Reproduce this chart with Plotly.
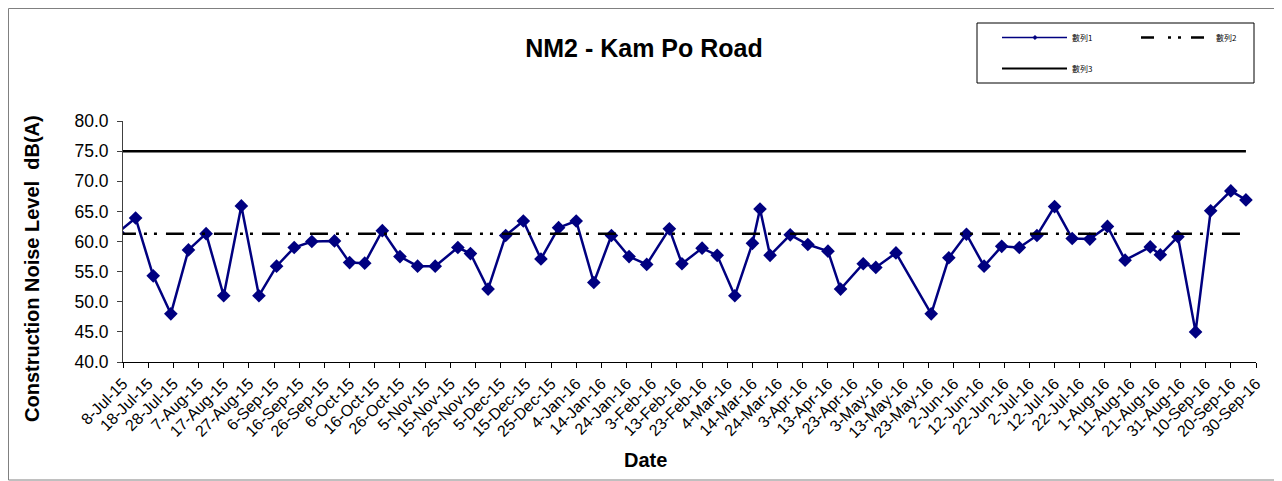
import plotly.graph_objects as go
import pandas as pd

# ---------------- data ----------------
dates = ["2015-07-06", "2015-07-13", "2015-07-20", "2015-07-27", "2015-08-03", "2015-08-10",
         "2015-08-17", "2015-08-24", "2015-08-31", "2015-09-07", "2015-09-14", "2015-09-21",
         "2015-09-30", "2015-10-06", "2015-10-12", "2015-10-19", "2015-10-26", "2015-11-02",
         "2015-11-09", "2015-11-18", "2015-11-23", "2015-11-30", "2015-12-07", "2015-12-14",
         "2015-12-21", "2015-12-28", "2016-01-04", "2016-01-11", "2016-01-18", "2016-01-25",
         "2016-02-01", "2016-02-10", "2016-02-15", "2016-02-23", "2016-02-29", "2016-03-07",
         "2016-03-14", "2016-03-17", "2016-03-21", "2016-03-29", "2016-04-05", "2016-04-13",
         "2016-04-18", "2016-04-27", "2016-05-02", "2016-05-10", "2016-05-24", "2016-05-31",
         "2016-06-07", "2016-06-14", "2016-06-21", "2016-06-28", "2016-07-05", "2016-07-12",
         "2016-07-19", "2016-07-26", "2016-08-02", "2016-08-09", "2016-08-19", "2016-08-23",
         "2016-08-30", "2016-09-06", "2016-09-12", "2016-09-20", "2016-09-26"]

noise_levels = [61.5, 63.9, 54.3, 48.0, 58.6, 61.3, 51.0, 65.9, 51.0, 55.9, 59.0, 60.0,
                60.1, 56.5, 56.4, 61.8, 57.5, 55.9, 55.9, 59.0, 58.0, 52.1, 61.0, 63.4,
                57.1, 62.3, 63.4, 53.2, 61.0, 57.5, 56.2, 62.1, 56.3, 58.9, 57.7, 51.0,
                59.7, 65.4, 57.7, 61.1, 59.5, 58.4, 52.1, 56.3, 55.7, 58.1, 48.0, 57.3,
                61.2, 55.9, 59.2, 59.0, 61.0, 65.8, 60.5, 60.4, 62.5, 56.9, 59.1, 57.8,
                60.8, 45.0, 65.1, 68.4, 66.9]

series_names = ["數列1", "數列2", "數列3"]

ref_line_dates = ["2015-07-06", "2016-09-26"]
baseline_values = [61.3, 61.3]
limit_values = [75.0, 75.0]

tick_labels = ["8-Jul-15", "18-Jul-15", "28-Jul-15", "7-Aug-15", "17-Aug-15", "27-Aug-15",
               "6-Sep-15", "16-Sep-15", "26-Sep-15", "6-Oct-15", "16-Oct-15", "26-Oct-15",
               "5-Nov-15", "15-Nov-15", "25-Nov-15", "5-Dec-15", "15-Dec-15", "25-Dec-15",
               "4-Jan-16", "14-Jan-16", "24-Jan-16", "3-Feb-16", "13-Feb-16", "23-Feb-16",
               "4-Mar-16", "14-Mar-16", "24-Mar-16", "3-Apr-16", "13-Apr-16", "23-Apr-16",
               "3-May-16", "13-May-16", "23-May-16", "2-Jun-16", "12-Jun-16", "22-Jun-16",
               "2-Jul-16", "12-Jul-16", "22-Jul-16", "1-Aug-16", "11-Aug-16", "21-Aug-16",
               "31-Aug-16", "10-Sep-16", "20-Sep-16", "30-Sep-16"]
y_ticks = [40, 45, 50, 55, 60, 65, 70, 75, 80]

tick_dates = pd.to_datetime(tick_labels, format="%d-%b-%y")

# ---------------- geometry helpers (page pixel coordinates) ----------------
PAGE_W, PAGE_H = 1282, 481
OFF = 8  # default body margin of the page
W, H = PAGE_W - OFF, PAGE_H - OFF
L, R, T, B = 123, 1256, 121, 362


def xp(px):
    return (px - L) / (R - L)


def yp(py):
    return (B - py) / (B - T)


FONT = "Arial, 'Liberation Sans', sans-serif"
CJK = "'Noto Sans CJK TC', 'Noto Sans CJK SC', sans-serif"
NAVY = "#000080"

fig = go.Figure()
fig.add_trace(go.Scatter(
    x=dates, y=noise_levels, mode="lines+markers", name=series_names[0],
    line=dict(color=NAVY, width=2.5),
    marker=dict(symbol="diamond", size=10.5, color=NAVY),
    showlegend=False,
))
fig.add_trace(go.Scatter(
    x=ref_line_dates, y=baseline_values, mode="lines", name=series_names[1],
    line=dict(color="black", width=2.5, dash="18px,8px,3px,7px,3px,9px"),
    showlegend=False,
))
fig.add_trace(go.Scatter(
    x=ref_line_dates, y=limit_values, mode="lines", name=series_names[2],
    line=dict(color="black", width=2.5),
    showlegend=False,
))

shapes = []
# outer chart border
shapes.append(dict(type="rect", xref="paper", yref="paper",
                   x0=xp(8.5), x1=xp(1279), y0=yp(8.5), y1=yp(480),
                   line=dict(color="#808080", width=1), fillcolor="rgba(0,0,0,0)", layer="below"))
# legend box
shapes.append(dict(type="rect", xref="paper", yref="paper",
                   x0=xp(977), x1=xp(1254), y0=yp(23), y1=yp(83),
                   line=dict(color="black", width=1), fillcolor="white"))
# legend samples
shapes.append(dict(type="line", xref="paper", yref="paper",
                   x0=xp(1002), x1=xp(1067), y0=yp(37.5), y1=yp(37.5),
                   line=dict(color=NAVY, width=1.5)))
cx, cy, r = 1035, 37.5, 2.2
shapes.append(dict(type="path", xref="paper", yref="paper",
                   path=f"M {xp(cx - r)},{yp(cy)} L {xp(cx)},{yp(cy - r)} L {xp(cx + r)},{yp(cy)} L {xp(cx)},{yp(cy + r)} Z",
                   fillcolor=NAVY, line=dict(color=NAVY, width=0.5)))
shapes.append(dict(type="line", xref="paper", yref="paper",
                   x0=xp(1141), x1=xp(1207), y0=yp(37.5), y1=yp(37.5),
                   line=dict(color="black", width=2.5, dash="13px,14px,3px,7px,3px,10px")))
shapes.append(dict(type="line", xref="paper", yref="paper",
                   x0=xp(1002), x1=xp(1067), y0=yp(68.5), y1=yp(68.5),
                   line=dict(color="black", width=2)))

annotations = []
for name, (px, py) in zip(series_names, [(1070, 37.5), (1214, 37.5), (1070, 68.5)]):
    annotations.append(dict(text=name, xref="paper", yref="paper", x=xp(px), y=yp(py),
                            xanchor="left", yanchor="middle", showarrow=False,
                            font=dict(family=CJK, size=8, color="black")))
annotations.append(dict(text="Date", xref="paper", yref="paper", x=xp(645), y=yp(460),
                        xanchor="center", yanchor="middle", showarrow=False,
                        font=dict(family=FONT, size=20, color="black", weight="bold")))
annotations.append(dict(text="Construction Noise Level\u00a0\u00a0dB(A)", xref="paper", yref="paper",
                        x=xp(32), y=yp(269), xanchor="center", yanchor="middle",
                        textangle=-90, showarrow=False,
                        font=dict(family=FONT, size=20, color="black", weight="bold")))

fig.update_layout(
    width=W, height=H,
    margin=dict(l=L - OFF, r=PAGE_W - R, t=T - OFF, b=PAGE_H - B, pad=0),
    plot_bgcolor="white", paper_bgcolor="white",
    showlegend=False,
    title=dict(text="NM2 - Kam Po Road", x=(644 - OFF) / W, xanchor="center",
               y=1 - (48 - OFF) / H, yanchor="middle",
               font=dict(family=FONT, size=25, color="black", weight="bold")),
    xaxis=dict(type="date", range=["2015-07-08", "2016-09-30"],
               tickmode="array", tickvals=tick_dates, ticktext=tick_labels,
               tickangle=-45, ticks="outside", ticklen=5, tickcolor="black", tickwidth=1,
               showline=True, linecolor="black", linewidth=1,
               showgrid=False, zeroline=False,
               tickfont=dict(family=FONT, size=16, color="black")),
    yaxis=dict(range=[40, 80], tickmode="array", tickvals=y_ticks,
               ticktext=[f"{v:.1f}" for v in y_ticks],
               ticks="outside", ticklen=5, tickcolor="#404040", tickwidth=1,
               showline=True, linecolor="#404040", linewidth=1,
               showgrid=False, zeroline=False, ticklabelstandoff=5,
               tickfont=dict(family=FONT, size=17.5, color="black")),
    shapes=shapes,
    annotations=annotations,
)

fig.write_html("out.html")
